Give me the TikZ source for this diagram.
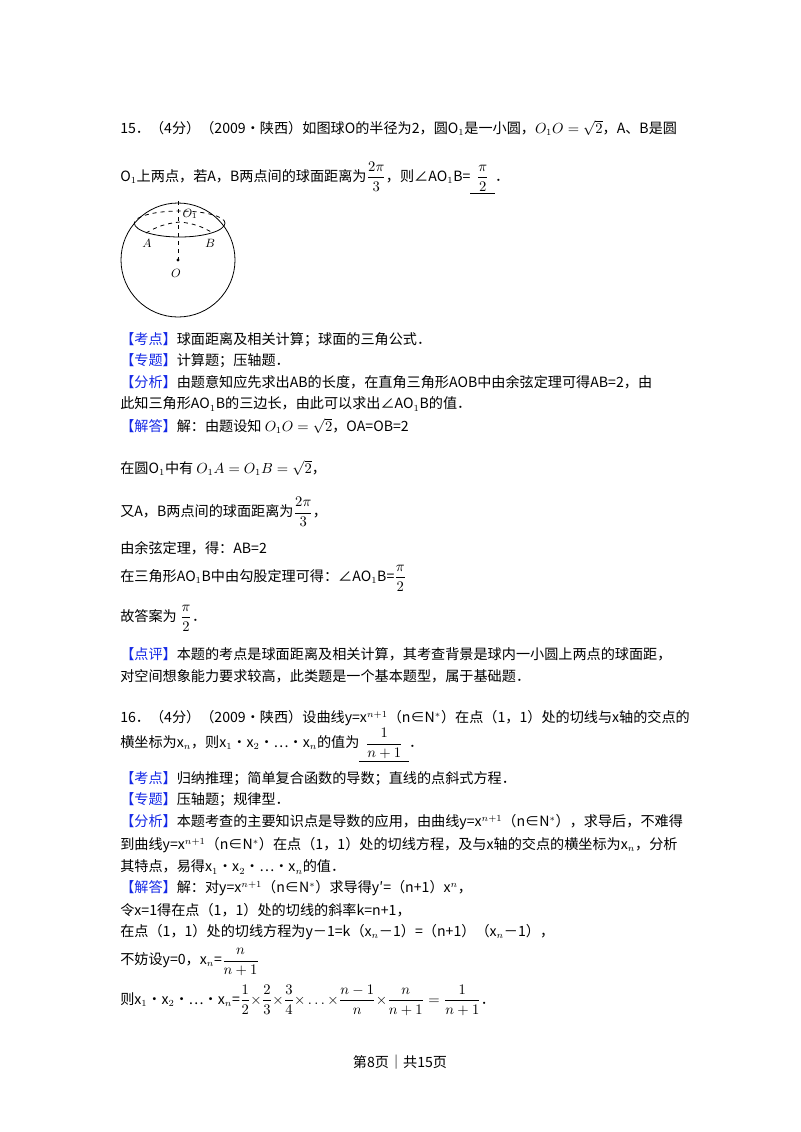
\documentclass[tikz,border=0pt]{standalone}
\usepackage{fontspec}
\setmainfont{Noto Sans CJK SC}
\usepackage{amsmath}
\definecolor{kd}{RGB}{20,40,230}
\begin{document}
\begin{tikzpicture}[x=0.75pt,y=-0.75pt,
  txt/.style={anchor=west,inner sep=0pt,font=\fontsize{10.6}{13}\selectfont},
  tag/.style={text=kd}]
\useasboundingbox[fill=white] (0,0) rectangle (800,1132);
% Problem 15
\node[txt] (l1) at (120,128) {15．（4分）（2009•陕西）如图球O的半径为2，圆O$_1$是一小圆，$O_1O=\sqrt{2}$，A、B是圆};
\node[txt] (l2) at (120,178) {O$_1$上两点，若A，B两点间的球面距离为$\dfrac{2\pi}{3}$，则∠AO$_1$B=\underline{\ \ $\dfrac{\pi}{2}$\ \ }．};
% figure
\coordinate (O) at (178,260);
\coordinate (O1) at (180,222);
\coordinate (T) at (178,201);
\coordinate (A) at (146,233);
\coordinate (B) at (213,233);
\draw[line width=0.6pt] (O) circle[radius=42.75pt];
\draw[line width=0.6pt] (225,223) arc[start angle=0,end angle=-180,x radius=34pt,y radius=10.5pt];
\draw[line width=0.6pt,dashed] (225,223) arc[start angle=0,end angle=180,x radius=34pt,y radius=9pt];
\draw[line width=0.6pt,dashed] (T) -- (O);
\draw[line width=0.6pt,dashed] (A) to[bend left=12] (O1) to[bend left=12] (B);
\fill (O) circle[radius=1.2pt];
\node[font=\small] (lO) at (176,273) {$O$};
\node[font=\small] (lO1) at (190,214) {$O_1$};
\node[font=\small] (lA) at (147,243) {$A$};
\node[font=\small] (lB) at (210,243) {$B$};
% analysis 15
\node[txt] (a1) at (120,340) {{\color{kd}【考点】}球面距离及相关计算；球面的三角公式．};
\node[txt] (a2) at (120,361) {{\color{kd}【专题】}计算题；压轴题．};
\node[txt] (a3) at (120,382) {{\color{kd}【分析】}由题意知应先求出AB的长度，在直角三角形AOB中由余弦定理可得AB=2，由};
\node[txt] (a4) at (120,404) {此知三角形AO$_1$B的三边长，由此可以求出∠AO$_1$B的值．};
\node[txt] (a5) at (120,426) {{\color{kd}【解答】}解：由题设知 $O_1O=\sqrt{2}$，OA=OB=2};
\node[txt] (a6) at (120,468) {在圆O$_1$中有 $O_1A=O_1B=\sqrt{2}$，};
\node[txt] (a7) at (120,512) {又A，B两点间的球面距离为$\dfrac{2\pi}{3}$，};
\node[txt] (a8) at (120,548) {由余弦定理，得：AB=2};
\node[txt] (a9) at (120,578) {在三角形AO$_1$B中由勾股定理可得：∠AO$_1$B=$\dfrac{\pi}{2}$};
\node[txt] (a10) at (120,618) {故答案为 $\dfrac{\pi}{2}$．};
\node[txt] (a11) at (120,654) {{\color{kd}【点评】}本题的考点是球面距离及相关计算，其考查背景是球内一小圆上两点的球面距，};
\node[txt] (a12) at (120,676) {对空间想象能力要求较高，此类题是一个基本题型，属于基础题．};
% Problem 16
\node[txt] (b1) at (120,718) {16．（4分）（2009•陕西）设曲线y=x$^{n+1}$（n∈N$^*$）在点（1，1）处的切线与x轴的交点的};
\node[txt] (b2) at (120,745) {横坐标为x$_n$，则x$_1$•x$_2$•…•x$_n$的值为\underline{\ \ $\dfrac{1}{n+1}$\ \ }．};
\node[txt] (b3) at (120,779) {{\color{kd}【考点】}归纳推理；简单复合函数的导数；直线的点斜式方程．};
\node[txt] (b4) at (120,800) {{\color{kd}【专题】}压轴题；规律型．};
\node[txt] (b5) at (120,822) {{\color{kd}【分析】}本题考查的主要知识点是导数的应用，由曲线y=x$^{n+1}$（n∈N$^*$），求导后，不难得};
\node[txt] (b6) at (120,845) {到曲线y=x$^{n+1}$（n∈N$^*$）在点（1，1）处的切线方程，及与x轴的交点的横坐标为x$_n$，分析};
\node[txt] (b7) at (120,867) {其特点，易得x$_1$•x$_2$•…•x$_n$的值．};
\node[txt] (b8) at (120,888) {{\color{kd}【解答】}解：对y=x$^{n+1}$（n∈N$^*$）求导得y′=（n+1）x$^n$，};
\node[txt] (b9) at (120,910) {令x=1得在点（1，1）处的切线的斜率k=n+1，};
\node[txt] (b10) at (120,932) {在点（1，1）处的切线方程为y－1=k（x$_n$－1）=（n+1）（x$_n$－1），};
\node[txt] (b11) at (120,962) {不妨设y=0，x$_n$=$\dfrac{n}{n+1}$};
\node[txt] (b12) at (120,1000) {则x$_1$•x$_2$•…•x$_n$=$\dfrac{1}{2}{\times}\dfrac{2}{3}{\times}\dfrac{3}{4}{\times}\ldots{\times}\dfrac{n-1}{n}{\times}\dfrac{n}{n+1}=\dfrac{1}{n+1}$．};
% footer
\node[txt,anchor=center] (ft) at (400,1062) {第8页｜共15页};
\end{tikzpicture}
\end{document}
